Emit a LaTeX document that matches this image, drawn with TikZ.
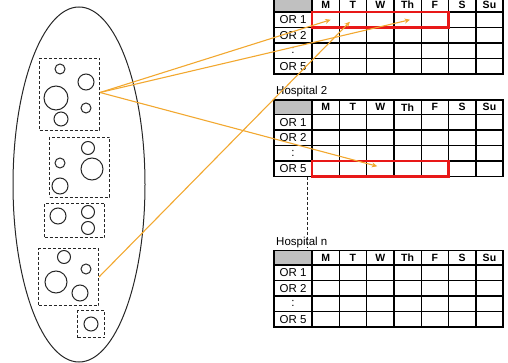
\documentclass[tikz,border=0pt]{standalone}
\usepackage{fontspec}
\setmainfont{Liberation Sans}
\usetikzlibrary{arrows.meta}

\definecolor{conn}{RGB}{242,168,48}
\definecolor{hdrgray}{RGB}{192,192,192}
\definecolor{selred}{RGB}{232,24,24}

\tikzset{
  cell/.style={draw=black, line width=1.4pt, inner sep=0pt, outer sep=0pt,
    anchor=north west, font=\fontsize{11.5}{11.5}\selectfont},
  hdr/.style={font=\fontsize{10.5}{10.5}\selectfont\bfseries},
  dbox/.style={draw=black!85, line width=1pt, dash pattern=on 3pt off 2pt,
    inner sep=0pt, anchor=north west},
  bubble/.style={draw=black!85, line width=1pt},
  sel/.style={draw=selred, line width=2.5pt},
  link/.style={draw=conn, line width=1.1pt, -{Stealth[length=5.5pt,width=5pt]}},
  title/.style={anchor=base west, inner sep=0pt, font=\fontsize{11.5}{11.5}\selectfont},
}

% weekly OR schedule: #1 = name prefix, #2 = top edge
\newcommand\schedtable[2]{%
  \node[cell, hdr, minimum width=38pt, minimum height=14.5pt, fill=hdrgray]
    (#1-0-0) at (274,#2) {};
  \foreach \c/\d in {1/M,2/T,3/W,4/Th,5/F,6/S,7/Su}{
    \node[cell, hdr, minimum width=27.3pt, minimum height=14.5pt]
      (#1-0-\c) at ({312+(\c-1)*27.3},#2) {\d};
  }
  \foreach \r/\lab in {1/OR 1,2/OR 2,3/:,4/OR 5}{
    \node[cell, minimum width=38pt, minimum height=15.5pt]
      (#1-\r-0) at (274,{#2+14.5+(\r-1)*15.5}) {\lab};
    \foreach \c in {1,...,7}{
      \node[cell, minimum width=27.3pt, minimum height=15.5pt]
        (#1-\r-\c) at ({312+(\c-1)*27.3},{#2+14.5+(\r-1)*15.5}) {};
    }
  }
}

\begin{document}
\begin{tikzpicture}[x=1pt,y=-1pt]
\useasboundingbox (0,0) rectangle (508,363);

% pool of patients
\draw[line width=1pt, black!85] (79,184.5) ellipse [x radius=66pt, y radius=177.5pt];

% groups of cases
\node[dbox, minimum width=60pt, minimum height=72pt] (box1) at (39,58) {};
\draw[bubble] (60,69) circle (5pt);
\draw[bubble] (86,82) circle (8pt);
\draw[bubble] (56,98) circle (12pt);
\draw[bubble] (86,108) circle (5pt);
\draw[bubble] (61,119) circle (7pt);

\node[dbox, minimum width=60pt, minimum height=60pt] (box2) at (49,137) {};
\draw[bubble] (88,148) circle (6.5pt);
\draw[bubble] (60,163) circle (5pt);
\draw[bubble] (92,169) circle (11pt);
\draw[bubble] (60,186) circle (8pt);

\node[dbox, minimum width=60pt, minimum height=34pt] (box3) at (44,203) {};
\draw[bubble] (58,216) circle (8pt);
\draw[bubble] (88,212) circle (6.5pt);
\draw[bubble] (88,228) circle (6.5pt);

\node[dbox, minimum width=60pt, minimum height=57pt] (box4) at (38,248) {};
\draw[bubble] (64,257) circle (6.5pt);
\draw[bubble] (86,269) circle (5pt);
\draw[bubble] (56,282) circle (11pt);
\draw[bubble] (80,293) circle (8pt);

\node[dbox, minimum width=27pt, minimum height=27pt] (box5) at (77,310) {};
\draw[bubble] (91,324) circle (7pt);

% hospital schedules
\schedtable{ha}{-2.5}
\node[title] (hosp2) at (276,94.5) {Hospital 2};
\schedtable{hb}{100}
\node[title] (hospn) at (276,245) {Hospital n};
\schedtable{hc}{250.5}

\coordinate (gapTop) at (307,177);
\coordinate (gapEnd) at (307,248);
\draw[black!85, line width=1pt, dash pattern=on 3pt off 2pt] (gapTop) -- (gapEnd);

% selected blocks
\draw[sel] (ha-1-1.north west) rectangle (ha-1-5.south east);
\draw[sel] (hb-4-1.north west) rectangle (hb-4-5.south east);

% assignments
\draw[link] ([yshift=2pt]box1.east) -- ([xshift=5pt]ha-1-1.center);
\draw[link] ([yshift=2pt]box1.east) -- ([xshift=2.5pt]ha-1-4.center);
\draw[link] ([yshift=2pt]box1.east) -- ([xshift=-3pt,yshift=2.5pt]hb-4-3.center);
\draw[link] (box4.east) -- ([xshift=-3pt,yshift=-2pt]ha-1-2.center);
\end{tikzpicture}
\end{document}
